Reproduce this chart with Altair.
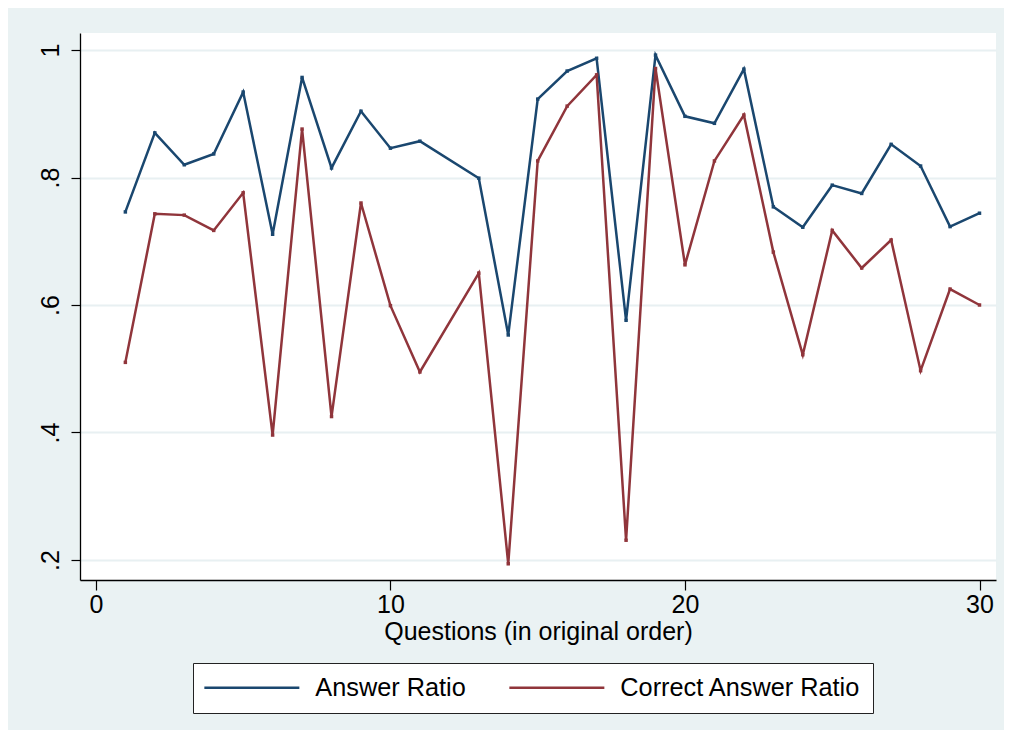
import altair as alt
import pandas as pd

questions = [1, 2, 3, 4, 5, 6, 7, 8, 9, 10, 11, 13, 14, 15, 16, 17, 18, 19, 20,
             21, 22, 23, 24, 25, 26, 27, 28, 29, 30]
answer_ratio = [0.746, 0.870, 0.820, 0.837, 0.934, 0.711, 0.957, 0.815, 0.904,
                0.846, 0.857, 0.799, 0.553, 0.923, 0.967, 0.987, 0.576, 0.992,
                0.896, 0.885, 0.970, 0.754, 0.722, 0.788, 0.775, 0.852, 0.818,
                0.723, 0.744]
correct_ratio = [0.510, 0.743, 0.741, 0.717, 0.776, 0.396, 0.876, 0.425, 0.760,
                 0.599, 0.495, 0.650, 0.194, 0.826, 0.912, 0.961, 0.231, 0.971,
                 0.663, 0.826, 0.898, 0.683, 0.522, 0.717, 0.658, 0.702, 0.497,
                 0.625, 0.600]
series_names = ["Answer Ratio", "Correct Answer Ratio"]
series_colors = ["#1A476F", "#90353B"]
x_ticks = [0, 10, 20, 30]
y_ticks = [0.2, 0.4, 0.6, 0.8, 1.0]

rows = []
for q, a in zip(questions, answer_ratio):
    rows.append({"q": q, "v": a, "s": series_names[0]})
for q, c in zip(questions, correct_ratio):
    rows.append({"q": q, "v": c, "s": series_names[1]})
df = pd.DataFrame(rows)

FONT = "Liberation Sans"

x_enc = alt.X("q:Q",
              scale=alt.Scale(domain=[-0.54, 30.56], nice=False, zero=False),
              axis=alt.Axis(values=x_ticks, title="Questions (in original order)",
                            grid=False, tickSize=10, tickWidth=1.2, tickColor="black",
                            domainColor="black", domainWidth=1.3,
                            labelFontSize=25, labelFont=FONT, labelColor="black",
                            labelPadding=2, titleFontSize=25, titleFont=FONT,
                            titleFontWeight="normal", titleColor="black",
                            titlePadding=2))
y_enc = alt.Y("v:Q",
              scale=alt.Scale(domain=[0.1686, 1.0267], nice=False, zero=False),
              axis=alt.Axis(values=y_ticks, title=None, grid=True,
                            gridColor="#E8F0F2", gridWidth=2,
                            labelExpr="datum.value >= 0.99 ? '1' : replace(format(datum.value, '.1f'), '0.', '.')",
                            labelAngle=270, labelAlign="center", labelBaseline="bottom",
                            labelFontSize=25, labelFont=FONT, labelColor="black",
                            labelPadding=8, tickSize=9, tickWidth=1.2,
                            tickColor="black", domainColor="black", domainWidth=1.3))
color_enc = alt.Color("s:N", scale=alt.Scale(domain=series_names, range=series_colors),
                      legend=alt.Legend(title=None, orient="none", direction="horizontal",
                                        legendX=113, legendY=630,
                                        symbolType="M-1.4,0H8.6", symbolSize=361,
                                        symbolStrokeWidth=2.5, labelFontSize=25.3,
                                        labelFont=FONT, labelColor="black",
                                        labelExpr="datum.index == 1 ? datum.label + '\u00a0\u00a0\u00a0' : datum.label",
                                        labelLimit=0, labelOffset=85,
                                        columnPadding=38, padding=12,
                                        fillColor="white", strokeColor="#222222"))

base = alt.Chart(df)
lines = base.mark_line(strokeWidth=2.5).encode(x=x_enc, y=y_enc, color=color_enc,
                                               detail="s:N")
points = base.mark_point(shape="square", filled=True, size=12, opacity=1).encode(
    x="q:Q", y="v:Q",
    color=alt.Color("s:N", scale=alt.Scale(domain=series_names, range=series_colors),
                    legend=None))

chart = alt.layer(lines, points).properties(
    width=916, height=547,
    autosize=alt.AutoSizeParams(type="none"),
    padding={"left": 72, "top": 25, "right": 8, "bottom": 150},
    background="#EAF2F3",
).configure_view(fill="white", strokeWidth=0)

chart.save("out.html", embed_options={"renderer": "svg", "actions": False})
